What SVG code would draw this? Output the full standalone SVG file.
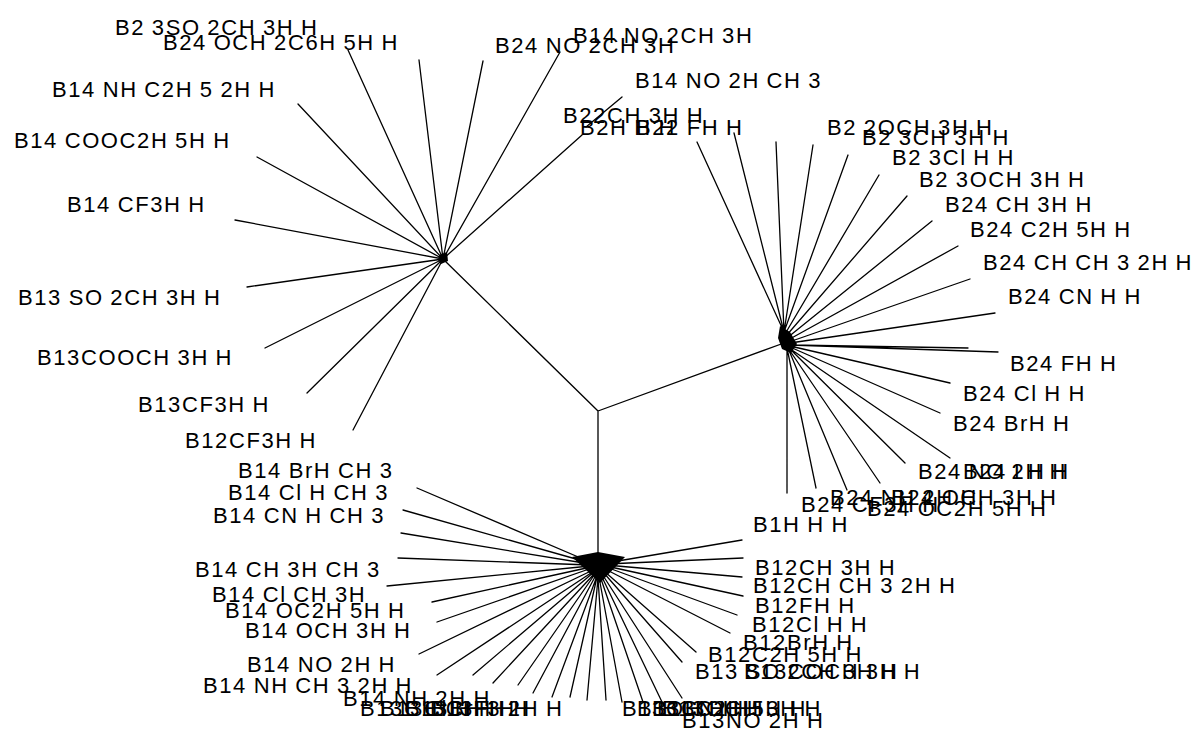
<svg xmlns="http://www.w3.org/2000/svg" width="1197" height="733" viewBox="0 0 1197 733">
<style>
.ln{stroke:#000;stroke-width:1.3;fill:none;stroke-linecap:round}
.blob{fill:#000;stroke:none}
text{font-family:"Liberation Sans",Arial,sans-serif;font-size:22px;letter-spacing:1.6px;word-spacing:-1px;fill:#000}
</style>
<rect width="1197" height="733" fill="#fff"/>
<g id="connectors">
<path class="ln" d="M598,411 L443,259 M598,411 L784,343 M598,411 L598,556"/>
<g id="edges-topleft">
<path class="ln" d="M443,259 L348,50 M443,259 L419,60 M443,259 L483,61 M443,259 L560,52 M586,127 L622,97 M443,259 L582,135 M443,259 L298,104 M443,259 L257,157 M443,259 L235,220 M443,259 L247,287 M443,259 L265,348 M443,259 L307,393 M443,259 L353,430"/>
<polygon class="blob" points="439,255 447,252 448,261 441,264"/>
</g>
<g id="edges-right">
<path class="ln" d="M784,332 L697,142 M784,332 L734,133 M784,332 L776,142 M784,332 L813,145 M784,332 L848,155 M785,334 L879,175 M786,336 L907,196 M787,338 L932,221 M788,340 L958,246 M789,342 L970,279 M790,343 L995,313 M790,345 L998,352 M790,345 L968,348 M790,346 L950,383 M790,347 L940,413 M789,348 L950,458 M789,348 L905,463 M788,348 L880,483 M788,348 L847,490 M787,348 L816,488 M787,348 L787,493"/>
<polygon class="blob" points="780,326 790,332 797,344 791,353 782,349 778,338"/>
</g>
<g id="edges-bottom">
<path class="ln" d="M590,562 L417,488 M590,563 L403,510 M590,564 L401,533 M590,565 L398,558 M590,566 L387,586 M591,567 L432,602 M592,568 L437,622 M593,570 L419,654 M594,571 L437,675 M594,572 L473,675 M595,573 L493,683 M595,574 L518,685 M596,575 L533,693 M597,576 L552,697 M597,577 L570,697 M598,578 L587,700 M598,578 L606,700 M599,577 L622,702 M600,576 L643,702 M601,575 L662,702 M602,574 L682,698 M603,572 L682,662 M604,571 L696,652 M605,569 L730,633 M606,567 L737,615 M606,566 L743,596 M606,565 L742,577 M606,564 L743,558 M606,563 L742,540"/>
<polygon class="blob" points="572,557 598,552 625,557 600,583"/>
</g>
</g>
<g id="n-topleft">
<text x="115" y="35">B2 3SO 2CH 3H H</text>
<text x="163" y="50">B24 OCH 2C6H 5H H</text>
<text x="52" y="97">B14 NH C2H 5 2H H</text>
<text x="14" y="148">B14 COOC2H 5H H</text>
<text x="67" y="212">B14 CF3H H</text>
<text x="18" y="305">B13 SO 2CH 3H H</text>
<text x="37" y="365">B13COOCH 3H H</text>
<text x="138" y="412">B13CF3H H</text>
<text x="185" y="448">B12CF3H H</text>
<text x="495" y="53">B24 NO 2CH 3H</text>
<text x="573" y="43">B14 NO 2CH 3H</text>
<text x="635" y="88">B14 NO 2H CH 3</text>
<text x="563" y="123">B22CH 3H H</text>
<text x="580" y="135">B2H H H</text>
<text x="636" y="135">B22 FH H</text>
</g>
<g id="n-right">
<text x="827" y="135">B2 2OCH 3H H</text>
<text x="862" y="145">B2 3CH 3H H</text>
<text x="892" y="165">B2 3Cl H H</text>
<text x="919" y="187">B2 3OCH 3H H</text>
<text x="945" y="212">B24 CH 3H H</text>
<text x="970" y="237">B24 C2H 5H H</text>
<text x="983" y="270">B24 CH CH 3 2H H</text>
<text x="1008" y="304">B24 CN H H</text>
<text x="1010" y="371">B24 FH H</text>
<text x="963" y="401">B24 Cl H H</text>
<text x="953" y="431">B24 BrH H</text>
<text x="918" y="479">B24 NO 2H H</text>
<text x="963" y="479">B24 I H H</text>
<text x="891" y="505">B24 OCH 3H H</text>
<text x="867" y="516">B24 OC2H 5H H</text>
<text x="801" y="512">B24 CF3H H</text>
<text x="830" y="505">B24 NH 2H H</text>
</g>
<g id="n-bottom">
<text x="753" y="532">B1H H H</text>
<text x="755" y="575">B12CH 3H H</text>
<text x="753" y="593">B12CH CH 3 2H H</text>
<text x="755" y="613">B12FH H</text>
<text x="752" y="632">B12Cl H H</text>
<text x="743" y="650">B12BrH H</text>
<text x="708" y="662">B12C2H 5H H</text>
<text x="695" y="679">B13 SO 2CH 3H H</text>
<text x="744" y="679">B13COCH 3H H</text>
<text x="622" y="716">B13OH H H</text>
<text x="637" y="716">B13CN H H</text>
<text x="652" y="716">B13C2H 5H H</text>
<text x="662" y="716">B13OCH 3H H</text>
<text x="682" y="728">B13NO 2H H</text>
<text x="238" y="478">B14 BrH CH 3</text>
<text x="228" y="500">B14 Cl H CH 3</text>
<text x="213" y="523">B14 CN H CH 3</text>
<text x="195" y="577">B14 CH 3H CH 3</text>
<text x="212" y="602">B14 Cl CH 3H</text>
<text x="225" y="618">B14 OC2H 5H H</text>
<text x="245" y="638">B14 OCH 3H H</text>
<text x="247" y="672">B14 NO 2H H</text>
<text x="203" y="693">B14 NH CH 3 2H H</text>
<text x="343" y="706">B14 NH 2H H</text>
<text x="380" y="716">B13Cl H H</text>
<text x="405" y="716">B13BrH H</text>
<text x="430" y="716">B13FH H</text>
<text x="360" y="716">B13CH CH 3 2H H</text>
</g>
</svg>
